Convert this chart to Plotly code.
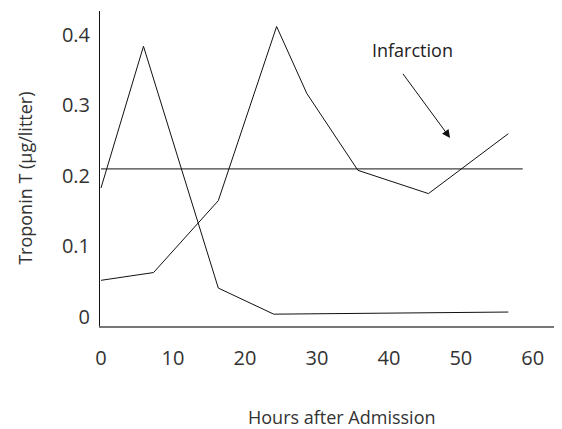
import plotly.graph_objects as go

# Data
hours_a = [0, 5.9, 16.3, 24.0, 56.6]
trop_a = [0.183, 0.384, 0.041, 0.004, 0.007]

hours_b = [0, 7.3, 16.3, 24.4, 28.6, 35.7, 45.5, 56.6]
trop_b = [0.052, 0.063, 0.165, 0.412, 0.317, 0.208, 0.175, 0.260]

ref_hours = [0, 58.6]
ref_level = [0.21, 0.21]

x_ticks = [0, 10, 20, 30, 40, 50, 60]
y_ticks = [0, 0.1, 0.2, 0.3, 0.4]
y_tick_labels = ["0", "0.1", "0.2", "0.3", "0.4"]

x_title = "Hours after Admission"
y_title = "Troponin T (μg/litter)"
label_text = "Infarction"
arrow_tail = (41.8, 0.347)
arrow_tip = (48.5, 0.254)

fig = go.Figure()
for xs, ys in [(hours_a, trop_a), (hours_b, trop_b), (ref_hours, ref_level)]:
    fig.add_trace(go.Scatter(x=xs, y=ys, mode="lines",
                             line=dict(color="#111111", width=1),
                             showlegend=False, hoverinfo="skip"))

fig.add_annotation(x=arrow_tip[0], y=arrow_tip[1], ax=arrow_tail[0], ay=arrow_tail[1],
                   axref="x", ayref="y", xref="x", yref="y", text="",
                   showarrow=True, arrowhead=2, arrowsize=1.6, arrowwidth=1,
                   arrowcolor="#111111")
fig.add_annotation(x=43.3, y=0.378, xref="x", yref="y", text=label_text,
                   showarrow=False, font=dict(family="Open Sans", size=18, color="#222222"))

# axis titles placed as annotations (they are not centred on the axes)
fig.add_annotation(x=0.528, y=-0.289, xref="paper", yref="paper", text=x_title,
                   showarrow=False, xanchor="center", yanchor="middle",
                   font=dict(family="Open Sans", size=18, color="#333333"))
fig.add_annotation(x=-0.164, y=0.47, xref="paper", yref="paper", text=y_title,
                   textangle=-90, showarrow=False, xanchor="center", yanchor="middle",
                   font=dict(family="Open Sans", size=18, color="#333333"))

# the page body has an 8px margin, so the figure is drawn 8px right/down
fig.update_layout(
    width=562, height=429,
    margin=dict(l=92, r=12, t=3, b=111),
    paper_bgcolor="white", plot_bgcolor="white",
    font=dict(family="Open Sans", color="#333333"),
)
fig.update_xaxes(range=[-0.14, 63.5], tickvals=x_ticks, showgrid=False, zeroline=False,
                 showline=True, linecolor="#777777", linewidth=2, automargin=False,
                 ticks="", ticklabelstandoff=13, tickfont=dict(size=20))
fig.update_yaxes(range=[-0.0128, 0.434], tickvals=y_ticks, ticktext=y_tick_labels,
                 showgrid=False, zeroline=False, automargin=False,
                 showline=True, linecolor="#111111", linewidth=1,
                 ticks="", ticklabelstandoff=5, tickfont=dict(size=20))

fig.write_html("out.html")
